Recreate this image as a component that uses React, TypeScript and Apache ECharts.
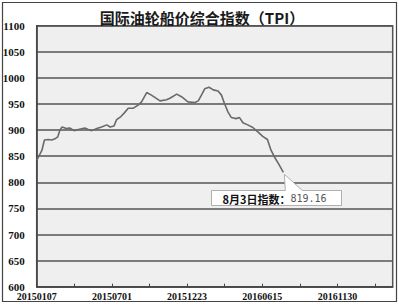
import React, { useEffect, useRef } from "react";
import * as echarts from "echarts";

const dates = [
  "20150107", "20150119", "20150125", "20150203", "20150211", "20150220", "20150225",
  "20150302", "20150307", "20150317", "20150325", "20150404", "20150414", "20150429",
  "20150507", "20150515", "20150527", "20150607", "20150619", "20150627", "20150706",
  "20150712", "20150722", "20150730", "20150808", "20150820", "20150831", "20150908",
  "20150920", "20151001", "20151021", "20151105", "20151113", "20151129", "20151210",
  "20151225", "20160110", "20160118", "20160126", "20160202", "20160212", "20160222",
  "20160304", "20160312", "20160319", "20160327", "20160404", "20160415", "20160423",
  "20160501", "20160512", "20160524", "20160604", "20160616", "20160627", "20160705",
  "20160713", "20160724", "20160803",
];
const values = [
  842, 861, 881, 882, 881, 884, 887,
  900, 906, 903, 904, 899, 901, 904,
  901, 899, 903, 906, 910, 906, 908,
  920, 926, 933, 942, 942, 948, 954,
  972, 967, 956, 958, 961, 969, 964,
  954, 953, 956, 968, 979, 982, 977,
  975, 967, 951, 935, 924, 922, 924,
  914, 910, 905, 897, 888, 882, 862,
  849, 834, 819.16,
];
const tickLabels = ["20150107", "20150701", "20151223", "20160615", "20161130"];
const labelStepDays = 175;
const yTicks = { min: 600, max: 1100, step: 50 };
const titleText = "国际油轮船价综合指数（TPI）";
const noteLabel = "8月3日指数：";

function dayOffset(d: string, base: string) {
  const t = (s: string) => Date.UTC(+s.slice(0, 4), +s.slice(4, 6) - 1, +s.slice(6, 8));
  return Math.round((t(d) - t(base)) / 86400000);
}

export default function App() {
  const ref = useRef<HTMLDivElement>(null);
  useEffect(() => {
    if (!ref.current) return;
    const chart = echarts.init(ref.current, null, { renderer: "svg" });
    const data = dates.map((d, i) => [dayOffset(d, dates[0]), values[i]]);
    const serif = "'Liberation Serif', 'DejaVu Serif', serif";
    chart.setOption({
      animation: false,
      backgroundColor: "#ffffff",
      grid: {
        left: 36.7,
        right: 6.3,
        top: 25.7,
        bottom: 18.3,
        show: true,
        backgroundColor: "#efefef",
        borderColor: "#555",
        borderWidth: 1.5,
        containLabel: false,
        outerBoundsMode: "none",
      },
      xAxis: {
        type: "value",
        min: 0,
        max: 828.5,
        interval: labelStepDays / 2,
        axisLine: { show: true, lineStyle: { color: "#444", width: 1.5 } },
        axisTick: { show: true, inside: true, length: 3, lineStyle: { color: "#444" } },
        splitLine: { show: false },
        axisLabel: {
          margin: 5,
          fontFamily: serif,
          fontWeight: "bold",
          fontSize: 10,
          color: "#111",
          showMaxLabel: false,
          formatter: (v: number) => {
            const k = v / labelStepDays;
            return Number.isInteger(k) && tickLabels[k] ? tickLabels[k] : "";
          },
        },
      },
      yAxis: {
        type: "value",
        min: yTicks.min,
        max: yTicks.max,
        interval: yTicks.step,
        axisLine: { show: true, lineStyle: { color: "#444", width: 1.5 } },
        axisTick: { show: false },
        splitLine: { show: true, lineStyle: { color: "#555", width: 1.5 } },
        axisLabel: {
          margin: 12,
          fontFamily: serif,
          fontWeight: "bold",
          fontSize: 11,
          color: "#111",
          formatter: (v: number) => String(v),
        },
      },
      series: [
        {
          type: "line",
          data,
          showSymbol: false,
          symbol: "none",
          lineStyle: { color: "#6a6a6a", width: 1.6 },
          z: 3,
        },
      ],
    });
    const last = data[data.length - 1];
    const p = chart.convertToPixel({ seriesIndex: 0 }, last) as number[];
    const ax = p[0] + 1;
    const ay = p[1] + 2;
    const bl = 211.5, bt = 190.5, br = 341.5, bb = 205.5;
    chart.setOption({
      graphic: [
        {
          type: "rect",
          shape: { x: 2.5, y: 2.5, width: 394, height: 299 },
          style: { fill: "none", stroke: "#444", lineWidth: 1.2 },
          z: 10,
        },
        {
          type: "text",
          x: 202,
          y: 17,
          style: {
            text: titleText,
            fontFamily: "'Noto Sans CJK SC', sans-serif",
            fontWeight: "bold",
            fontSize: 15,
            fill: "#1a1a1a",
            textAlign: "center",
            textVerticalAlign: "middle",
          },
          z: 10,
        },
        {
          type: "polygon",
          shape: {
            points: [
              [bl, bt], [ax + 1, bt], [ax, ay], [ax + 18, bt], [br, bt], [br, bb], [bl, bb],
            ],
          },
          style: { fill: "#ffffff", stroke: "#b0b0b0", lineWidth: 1 },
          z: 10,
        },
        {
          type: "text",
          x: 222.5,
          y: 198.5,
          style: {
            text: "{a|" + noteLabel + "}{b|" + (last[1] as number).toFixed(2) + "}",
            textVerticalAlign: "middle",
            rich: {
              a: {
                fontFamily: "'Noto Sans CJK SC', sans-serif",
                fontWeight: "bold",
                fontSize: 11,
                fill: "#111",
                color: "#111",
              },
              b: {
                fontFamily: "'DejaVu Sans Mono', monospace",
                fontSize: 10,
                fill: "#555",
                color: "#555",
              },
            },
          },
          z: 11,
        },
      ],
    });
    return () => chart.dispose();
  }, []);
  return (
    <div
      ref={ref}
      style={{ position: "fixed", left: 0, top: 0, width: 399, height: 305 }}
    />
  );
}
